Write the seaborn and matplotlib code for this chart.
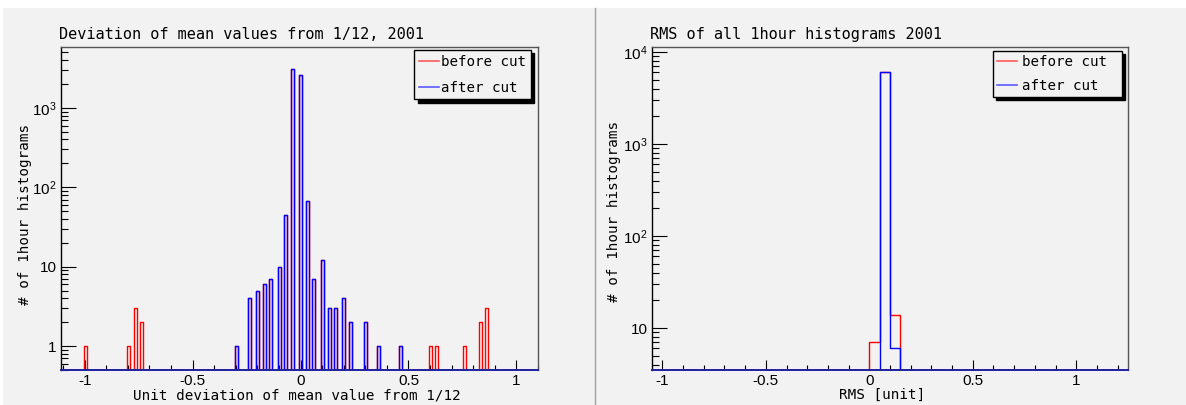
import numpy as np
import pandas as pd
import matplotlib
matplotlib.use("Agg")
import matplotlib.pyplot as plt
import seaborn as sns
from matplotlib.lines import Line2D
from matplotlib.patches import Rectangle
from matplotlib.ticker import MultipleLocator, LogLocator, NullFormatter

# ---------------- data ----------------
# Left panel: deviation of mean values from 1/12 (bar centres and counts)
dev_centers = [-0.998, -0.799, -0.767, -0.738, -0.298, -0.238, -0.199, -0.167,
               -0.138, -0.098, -0.069, -0.038, 0.001, 0.032, 0.061, 0.102,
               0.132, 0.163, 0.201, 0.232, 0.302, 0.361, 0.462, 0.601, 0.631,
               0.761, 0.832, 0.862]
dev_before = [1, 1, 3, 2, 1, 4, 5, 6, 7, 10, 45, 3100, 2600, 68, 7, 12,
              3, 3, 4, 2, 2, 1, 1, 1, 1, 1, 2, 3]
dev_after = [0, 0, 0, 0, 1, 4, 5, 6, 7, 10, 45, 3100, 2600, 68, 7, 12,
             3, 3, 4, 2, 2, 1, 1, 0, 0, 0, 0, 0]

# Right panel: RMS of all 1hour histograms (bin centres and counts)
rms_centers = [0.025, 0.075, 0.125]
rms_before = [7, 6000, 14]
rms_after = [0, 6000, 6]

series_labels = ["before cut", "after cut"]
series_colors = ["#ff0000", "#0000ff"]
legend_colors = ["#ff5a5a", "#5a5aff"]

left_title = "Deviation of mean values from 1/12, 2001"
left_xlabel = "Unit deviation of mean value from 1/12"
right_title = "RMS of all 1hour histograms 2001"
right_xlabel = "RMS [unit]"
ylabel = "# of 1hour histograms"

x_ticks = [-1, -0.5, 0, 0.5, 1]
x_ticklabels = ["-1", "-0.5", "0", "0.5", "1"]
left_yticks = [1, 10, 100, 1000]
left_yticklabels = ["1", "10", "$10^{2}$", "$10^{3}$"]
right_yticks = [10, 100, 1000, 10000]
right_yticklabels = ["10", "$10^{2}$", "$10^{3}$", "$10^{4}$"]

# ---------------- style ----------------
plt.rcParams["font.family"] = ["DejaVu Sans Mono", "DejaVu Sans"]
plt.rcParams["mathtext.fontset"] = "custom"
plt.rcParams["mathtext.rm"] = "Liberation Sans"
plt.rcParams["mathtext.it"] = "Liberation Sans:italic"
plt.rcParams["mathtext.bf"] = "Liberation Sans:bold"

W, H = 1186, 405
BG = "#f2f2f2"
fig = plt.figure(figsize=(W / 100, H / 100), dpi=100)
fig.patch.set_facecolor("white")
fig.patches.append(Rectangle((3 / W, 0), (594.5 - 3) / W, (H - 8) / H,
                             transform=fig.transFigure, facecolor=BG,
                             edgecolor="none", zorder=-10))
fig.patches.append(Rectangle((595.5 / W, 0), (W - 595.5) / W, (H - 8) / H,
                             transform=fig.transFigure, facecolor=BG,
                             edgecolor="none", zorder=-10))
fig.lines.append(Line2D([595 / W, 595 / W], [0, (H - 8) / H],
                        transform=fig.transFigure, color="#a0a0a0", lw=1))

ax1 = fig.add_axes([61 / W, 35 / H, 477 / W, 323.3 / H])
ax2 = fig.add_axes([652 / W, 35 / H, 476 / W, 323.3 / H])

# bins
bw = 0.014
left_edges = [-1.1]
for c in dev_centers:
    left_edges += [c - bw / 2, c + bw / 2]
left_edges.append(1.1)
left_edges = [float(e) for e in left_edges]
right_edges = [float(e) for e in np.linspace(-1.05, 1.25, 47)]


def draw(ax, centers, weights, bins, color):
    df = pd.DataFrame({"x": centers, "w": weights})
    sns.histplot(data=df, x="x", weights="w", bins=bins, element="step",
                 fill=False, color=color, linewidth=1.0, ax=ax)


for ax, centers, before, after, bins in [
        (ax1, dev_centers, dev_before, dev_after, left_edges),
        (ax2, rms_centers, rms_before, rms_after, right_edges)]:
    draw(ax, centers, before, bins, series_colors[0])
    draw(ax, centers, after, bins, series_colors[1])

ax1.set_yscale("log")
ax2.set_yscale("log")
ax1.set_xlim(-1.11, 1.10)
ax2.set_xlim(-1.05, 1.25)
ax1.set_ylim(0.5, 5900)
ax2.set_ylim(3.5, 11400)

for ax, yt, ytl in [(ax1, left_yticks, left_yticklabels),
                    (ax2, right_yticks, right_yticklabels)]:
    ax.set_facecolor(BG)
    ax.set_xlabel("")
    ax.set_ylabel("")
    ax.set_xticks(x_ticks, x_ticklabels)
    ax.xaxis.set_minor_locator(MultipleLocator(0.1))
    ax.set_yticks(yt, ytl)
    ax.yaxis.set_minor_locator(LogLocator(base=10, subs=np.arange(2, 10)))
    ax.yaxis.set_minor_formatter(NullFormatter())
    ax.tick_params(axis="both", which="both", direction="in", top=False,
                   right=False, colors="black", width=0.8,
                   labelsize=11, labelfontfamily="Liberation Sans", pad=3)
    ax.tick_params(axis="x", which="major", length=7.2)
    ax.tick_params(axis="x", which="minor", length=3.6)
    ax.tick_params(axis="y", which="major", length=10.5)
    ax.tick_params(axis="y", which="minor", length=5.2)
    for side in ["top", "right"]:
        ax.spines[side].set_color("#555555")
        ax.spines[side].set_linewidth(1.0)
    ax.spines["left"].set_color("black")
    ax.spines["left"].set_linewidth(1.0)
    ax.spines["bottom"].set_color("#2020a0")
    ax.spines["bottom"].set_linewidth(1.4)

# titles and labels
for ax, title, xl, xl_pos, yl_y, yl_off in [
        (ax1, left_title, left_xlabel, 0.495, 0.4825, -36.5),
        (ax2, right_title, right_xlabel, 0.483, 0.491, -38.0)]:
    ax.annotate(title, xy=(0, 1), xycoords="axes fraction",
                xytext=(-1.2, 5.5), textcoords="offset points",
                ha="left", va="baseline", fontsize=11, color="black")
    ax.annotate(xl, xy=(xl_pos, 0), xycoords="axes fraction",
                xytext=(0, -20.9), textcoords="offset points",
                ha="center", va="baseline", fontsize=10.3, color="black")
    ax.annotate(ylabel, xy=(0, yl_y), xycoords="axes fraction",
                xytext=(yl_off * 0.72, 0), textcoords="offset points",
                ha="center", va="center", rotation=90, fontsize=10.3,
                color="black")

# legends
handles = [Line2D([], [], color=legend_colors[0], lw=1.2),
           Line2D([], [], color=legend_colors[1], lw=1.2)]
for ax, x0, w, ytop, tpad, lsp, bpad in [
        (ax1, 0.7407, 0.244, 0.9898, 0.15, 0.85, 0.32),
        (ax2, 0.7164, 0.2706, 0.9876, 0.35, 0.68, 0.3)]:
    leg = ax.legend(handles=handles, labels=series_labels, loc="upper left",
                    bbox_to_anchor=(x0, 0, w, ytop), mode="expand",
                    borderaxespad=0, fontsize=10.2, handlelength=1.4,
                    handletextpad=tpad, borderpad=bpad, labelspacing=lsp,
                    fancybox=False, framealpha=1, facecolor=BG,
                    edgecolor="black",
                    shadow={"ox": 2.5, "oy": -2.5, "facecolor": "black",
                            "edgecolor": "black", "alpha": 1})
    leg.get_frame().set_linewidth(1.0)

fig.savefig("out.png", dpi=100)
